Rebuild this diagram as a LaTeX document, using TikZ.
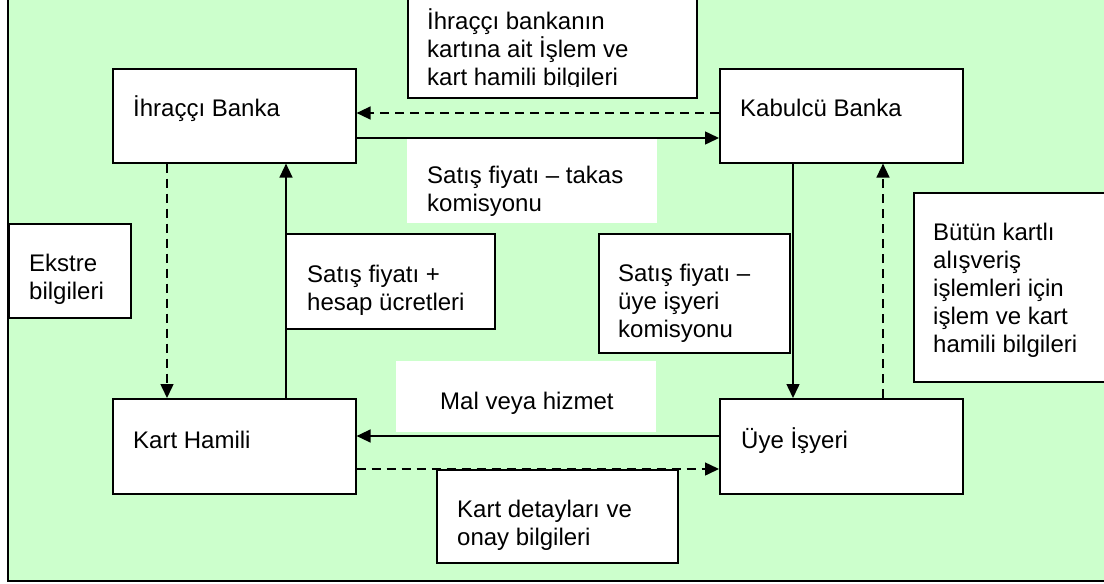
\documentclass[tikz,border=0pt]{standalone}
\usepackage{fontspec}
\setmainfont{Liberation Sans}
\usetikzlibrary{arrows.meta,calc}
\definecolor{bggreen}{HTML}{CCFFCC}
\begin{document}
\begin{tikzpicture}[x=1pt,y=-1pt,
  font=\fontsize{24}{28}\selectfont,
  mainbox/.style={draw, fill=white, line width=1.6pt, inner sep=0pt, anchor=north west},
  infobox/.style={draw, fill=white, line width=2.3pt, inner sep=0pt, anchor=north west},
  whitelabel/.style={fill=white, inner sep=0pt, anchor=north west},
  txt/.style={anchor=base west, inner sep=0pt, align=left},
  flow/.style={line width=1.5pt, -{Triangle[length=14pt,width=13pt]}},
  dflow/.style={flow, dash pattern=on 9pt off 6pt}]
\clip (0,0) rectangle (1104,584);
\useasboundingbox (0,0) rectangle (1104,584);
% background and frame
\fill[white] (0,0) rectangle (1104,584);
\fill[bggreen] (8,-10) rectangle (1114,581);
\draw[line width=2pt] (8,-10) -- (8,581) -- (1114,581);

% white labels without border
\node[whitelabel, minimum width=250pt, minimum height=86pt] (lbltakas) at (407,137) {};
\node[txt] (ttakas) at (427,211) {Satış fiyatı – takas\\komisyonu};
\node[whitelabel, minimum width=260pt, minimum height=71pt] (lblmal) at (396,361) {};
\node[txt] (tmal) at (440,409) {Mal veya hizmet};

% main boxes
\node[mainbox, minimum width=243pt, minimum height=94pt] (ib) at (112,68) {};
\node[txt] (tib) at (133,116) {İhraççı Banka};
\node[mainbox, minimum width=243pt, minimum height=94pt] (kb) at (719,68) {};
\node[txt] (tkb) at (740,116) {Kabulcü Banka};
\node[mainbox, minimum width=243pt, minimum height=95pt] (kh) at (112,398) {};
\node[txt] (tkh) at (133,448) {Kart Hamili};
\node[mainbox, minimum width=243pt, minimum height=95pt] (uy) at (719,398) {};
\node[txt] (tuy) at (741,448) {Üye İşyeri};

% connectors
\draw[dflow] (kb.west |- 0,113) -- (ib.east |- 0,113);
\draw[flow] (ib.east |- 0,138) -- (kb.west |- 0,138);
\draw[dflow] (ib.south -| 167,0) -- (kh.north -| 167,0);
\draw[flow] (kh.north -| 286,0) -- (ib.south -| 286,0);
\draw[flow] (kb.south -| 793,0) -- (uy.north -| 793,0);
\draw[dflow] (uy.north -| 883,0) -- (kb.south -| 883,0);
\draw[flow] (uy.west |- 0,436) -- (kh.east |- 0,436);
\draw[dflow] (kh.east |- 0,469) -- (uy.west |- 0,469);

% info boxes with border
\node[infobox, minimum width=289pt, minimum height=117pt] (top) at (407,-20) {};
\begin{scope}
\clip (407,-20) rectangle (696,86.5);
\node[txt] (ttop) at (427,85) {İhraççı bankanın\\kartına ait İşlem ve\\kart hamili bilgileri};
\end{scope}
\node[infobox, minimum width=122pt, minimum height=94pt] (ek) at (8,223) {};
\node[txt] (tek) at (29,299) {Ekstre\\bilgileri};
\node[infobox, minimum width=209pt, minimum height=95pt] (sh) at (285,233) {};
\node[txt] (tsh) at (307,310) {Satış fiyatı +\\hesap ücretleri};
\node[infobox, minimum width=191pt, minimum height=119pt] (su) at (598,233) {};
\node[txt] (tsu) at (618,337) {Satış fiyatı –\\üye işyeri\\komisyonu};
\node[infobox, minimum width=200pt, minimum height=189pt] (bk) at (913,192) {};
\node[txt] (tbk) at (933,352) {Bütün kartlı\\alışveriş\\işlemleri için\\işlem ve kart\\hamili bilgileri};
\node[infobox, minimum width=241pt, minimum height=93pt] (kd) at (436,469) {};
\node[txt] (tkd) at (457,545) {Kart detayları ve\\onay bilgileri};
\end{tikzpicture}
\end{document}
